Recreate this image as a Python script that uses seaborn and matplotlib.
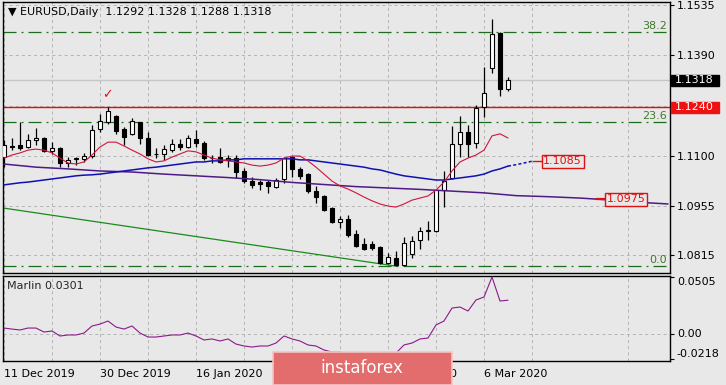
import matplotlib
matplotlib.use("Agg")
import matplotlib.pyplot as plt
import matplotlib.transforms as mtransforms
from matplotlib.patches import Rectangle
import numpy as np
import pandas as pd
import seaborn as sns

sns.set_theme(style="white")
plt.rcParams["font.family"] = ["DejaVu Sans"]
plt.rcParams["lines.scale_dashes"] = False

BG = "#e8e8e8"
W, H = 726, 385

# --- data (EURUSD daily, 11 Dec 2019 .. 11 Mar 2020) ---
opens = [1.1097, 1.1129, 1.1132, 1.1126, 1.1146, 1.1152, 1.1115, 1.1123, 1.1080, 1.1091,
         1.1092, 1.1100, 1.1178, 1.1198, 1.1215, 1.1178, 1.1164, 1.1198, 1.1152, 1.1106,
         1.1106, 1.1117, 1.1135, 1.1126, 1.1149, 1.1138, 1.1094, 1.1097, 1.1089, 1.1094,
         1.1057, 1.1028, 1.1025, 1.1025, 1.1011, 1.1034, 1.1097, 1.1063, 1.1048, 1.0999,
         1.0985, 1.0950, 1.0910, 1.0919, 1.0876, 1.0847, 1.0847, 1.0838, 1.0792, 1.0806,
         1.0786, 1.0818, 1.0858, 1.0884, 1.0884, 1.1002, 1.1037, 1.1135, 1.1169, 1.1138,
         1.1241, 1.1354, 1.1454, 1.1292]
highs = [1.1146, 1.1152, 1.1198, 1.1164, 1.1181, 1.1155, 1.1140, 1.1126, 1.1097, 1.1097,
         1.1109, 1.1189, 1.1221, 1.1241, 1.1218, 1.1184, 1.1210, 1.1198, 1.1169, 1.1123,
         1.1132, 1.1149, 1.1149, 1.1161, 1.1175, 1.1143, 1.1103, 1.1123, 1.1103, 1.1103,
         1.1065, 1.1040, 1.1031, 1.1031, 1.1037, 1.1097, 1.1100, 1.1068, 1.1051, 1.1014,
         1.0988, 1.0953, 1.0927, 1.0930, 1.0887, 1.0864, 1.0855, 1.0841, 1.0821, 1.0827,
         1.0867, 1.0870, 1.0896, 1.0913, 1.1005, 1.1057, 1.1187, 1.1215, 1.1189, 1.1247,
         1.1356, 1.1495, 1.1457, 1.1328]
lows = [1.1068, 1.1117, 1.1117, 1.1123, 1.1132, 1.1112, 1.1106, 1.1068, 1.1068, 1.1074,
        1.1083, 1.1094, 1.1169, 1.1192, 1.1164, 1.1132, 1.1161, 1.1135, 1.1100, 1.1094,
        1.1089, 1.1112, 1.1117, 1.1123, 1.1126, 1.1089, 1.1080, 1.1080, 1.1068, 1.1037,
        1.1022, 1.1008, 1.1002, 1.0994, 1.1008, 1.1022, 1.1040, 1.1034, 1.0994, 1.0965,
        1.0942, 1.0907, 1.0893, 1.0867, 1.0838, 1.0829, 1.0829, 1.0789, 1.0789, 1.0783,
        1.0783, 1.0806, 1.0832, 1.0858, 1.0881, 1.0953, 1.1034, 1.1097, 1.1097, 1.1123,
        1.1212, 1.1339, 1.1273, 1.1288]
closes = [1.1132, 1.1126, 1.1123, 1.1146, 1.1152, 1.1115, 1.1123, 1.1080, 1.1089, 1.1093,
          1.1100, 1.1175, 1.1201, 1.1230, 1.1172, 1.1155, 1.1201, 1.1152, 1.1103, 1.1105,
          1.1120, 1.1135, 1.1126, 1.1152, 1.1138, 1.1094, 1.1093, 1.1083, 1.1094, 1.1054,
          1.1028, 1.1017, 1.1020, 1.1014, 1.1031, 1.1094, 1.1063, 1.1043, 1.0999, 1.0982,
          1.0945, 1.0910, 1.0919, 1.0873, 1.0841, 1.0832, 1.0835, 1.0792, 1.0809, 1.0786,
          1.0850, 1.0855, 1.0884, 1.0886, 1.1002, 1.1028, 1.1135, 1.1169, 1.1135, 1.1238,
          1.1282, 1.1452, 1.1293, 1.1318]

red_ma = [1.1094, 1.1103, 1.1109, 1.1117, 1.1120, 1.1117, 1.1109, 1.1094, 1.1080, 1.1077,
          1.1083, 1.1103, 1.1126, 1.1140, 1.1140, 1.1129, 1.1117, 1.1106, 1.1092, 1.1083,
          1.1086, 1.1097, 1.1106, 1.1115, 1.1112, 1.1103, 1.1094, 1.1089, 1.1086, 1.1083,
          1.1080, 1.1074, 1.1071, 1.1074, 1.1080, 1.1094, 1.1100, 1.1100, 1.1086, 1.1068,
          1.1048, 1.1028, 1.1014, 1.1005, 1.0994, 1.0982, 1.0971, 1.0962, 1.0956, 1.0953,
          1.0962, 1.0973, 1.0979, 1.0985, 1.1002, 1.1025, 1.1057, 1.1083, 1.1094, 1.1103,
          1.1117, 1.1158, 1.1164, 1.1152]
blue_ma = [1.1017, 1.1020, 1.1023, 1.1025, 1.1028, 1.1031, 1.1034, 1.1037, 1.1040, 1.1043,
           1.1045, 1.1046, 1.1048, 1.1051, 1.1054, 1.1057, 1.1060, 1.1063, 1.1066, 1.1068,
           1.1071, 1.1074, 1.1077, 1.1080, 1.1083, 1.1083, 1.1086, 1.1086, 1.1089, 1.1089,
           1.1092, 1.1092, 1.1092, 1.1092, 1.1092, 1.1092, 1.1092, 1.1089, 1.1089, 1.1086,
           1.1083, 1.1080, 1.1077, 1.1074, 1.1071, 1.1068, 1.1063, 1.1060, 1.1054, 1.1048,
           1.1043, 1.1040, 1.1037, 1.1034, 1.1031, 1.1031, 1.1034, 1.1037, 1.1040, 1.1043,
           1.1048, 1.1057, 1.1063, 1.1071]
blue_proj_idx = [63, 64, 65, 66]
blue_proj = [1.1071, 1.1075, 1.1080, 1.1085]
purple_idx = [0, 4, 8, 12, 16, 20, 24, 28, 32, 36, 40, 44, 48, 52, 56, 60, 64, 68, 72, 76, 80, 83]
purple_ma = [1.1077, 1.1068, 1.1063, 1.1057, 1.1054, 1.1048, 1.1043, 1.1038, 1.1032, 1.1024,
             1.1018, 1.1012, 1.1008, 1.1004, 1.0999, 1.0994, 1.0986, 1.0983, 1.0979, 1.0973,
             1.0966, 1.0962]
trend_idx = [0, 49]
trend_val = [1.0950, 1.0783]
fib_names = ["0.0", "23.6", "38.2"]
fib_prices = [1.0783, 1.1198, 1.1457]
resistance = 1.1240
blue_label, purple_label = 1.1085, 1.0975

marlin = [0.0056, 0.0047, 0.0039, 0.0056, 0.0056, 0.0021, 0.0030, -0.0014, -0.0005, -0.0005,
          0.0012, 0.0074, 0.0091, 0.0118, 0.0065, 0.0047, 0.0074, 0.0012, -0.0023, -0.0023,
          -0.0014, -0.0005, -0.0005, 0.0012, -0.0014, -0.0049, -0.0040, -0.0058, -0.0040, -0.0085,
          -0.0102, -0.0111, -0.0102, -0.0102, -0.0076, -0.0014, -0.0040, -0.0058, -0.0093, -0.0102,
          -0.0137, -0.0155, -0.0155, -0.0181, -0.0208, -0.0217, -0.0217, -0.0218, -0.0199, -0.0164,
          -0.0093, -0.0076, -0.0040, -0.0032, 0.0083, 0.0118, 0.0232, 0.0241, 0.0206, 0.0303,
          0.0329, 0.0505, 0.0294, 0.0301]

date_idx = [0, 12, 24, 36, 48, 60]
date_labels = ["11 Dec 2019", "30 Dec 2019", "16 Jan 2020", "3 Feb 2020", "19 Feb 2020", "6 Mar 2020"]
price_ticks = [1.1535, 1.1390, 1.1245, 1.1100, 1.0955, 1.0815]
hidden_ticks = [1.1245]  # covered by the red 1.1240 marker
marlin_ticks = [0.0505, 0.0, -0.0218]
marlin_tick_labels = ["0.0505", "0.00", "-0.0218"]

df = pd.DataFrame({"open": opens, "high": highs, "low": lows, "close": closes})
df["idx"] = np.arange(len(df))

fig = plt.figure(figsize=(W / 100, H / 100), dpi=100, facecolor=BG)
ax = fig.add_axes([3 / W, 1 - 273 / H, 667 / W, 271 / H])
axm = fig.add_axes([3 / W, 1 - 361 / H, 667 / W, 85 / H])
GRID = dict(color="#b4b4b4", linestyle=(0, (2.2, 2.2)), linewidth=0.7)

for a in (ax, axm):
    a.set_facecolor(BG)
    a.set_xlim(-0.125, 83.25)
    a.set_xticks(date_idx)
    a.set_xticks(np.arange(6, 84, 12), minor=True)
    a.grid(True, axis="x", which="both", **GRID)
    a.set_axisbelow(True)
    for s in a.spines.values():
        s.set_color("black")
        s.set_linewidth(1)
    a.yaxis.tick_right()
    a.tick_params(axis="y", which="both", direction="out", length=3, width=0.8,
                  colors="black", labelsize=8, pad=2)
    a.tick_params(axis="x", which="minor", length=0)

# --- main panel ---
ax.set_ylim(1.07632, 1.15436)
ax.set_yticks(price_ticks)
ax.set_yticklabels(["" if p in hidden_ticks else f"{p:.4f}" for p in price_ticks])
ax.grid(True, axis="y", **GRID)
ax.tick_params(axis="x", which="both", length=0, labelbottom=False)

for lvl, name in zip(fib_prices, fib_names):
    ax.axhline(lvl, color="#1c6e1c", lw=0.9, ls=(0, (9.4, 3.6, 1.4, 3.6)), zorder=2)
    ax.text(82.9, lvl + 0.0004, name, ha="right", va="bottom", fontsize=8,
            color="#3f7a2a", zorder=6)
ax.axhline(resistance, color="#e01010", lw=1, zorder=2)
ax.axhline(closes[-1], color="#c6c6c6", lw=1, zorder=1)

sns.lineplot(x=trend_idx, y=trend_val, ax=ax, color="#1a8a1a", linewidth=0.9, zorder=2)

up = df["close"] >= df["open"]
ax.vlines(df["idx"], df["low"], df["high"], color="black", lw=0.9, zorder=3)
body = (df["close"] - df["open"]).abs().clip(lower=0.00006)
ax.bar(df["idx"], body, bottom=df[["open", "close"]].min(axis=1), width=0.6,
       color=np.where(up, "white", "black"), edgecolor="black", linewidth=0.8, zorder=4)

sns.lineplot(x=purple_idx, y=purple_ma, ax=ax, color="#4e1a86", linewidth=1.1, zorder=5)
sns.lineplot(x=df["idx"], y=blue_ma, ax=ax, color="#1010b4", linewidth=1.1, zorder=5)
ax.plot(blue_proj_idx, blue_proj, color="#1010b4", lw=1.1, ls=(0, (2.2, 1.6)), zorder=5)
sns.lineplot(x=df["idx"], y=red_ma, ax=ax, color="#d2143c", linewidth=0.8, zorder=5)

# price labels inside the chart
ax.plot([66.1, 67.3], [blue_label, blue_label], color="#e01010", lw=1, zorder=6)
ax.text(67.4, blue_label, f"{blue_label:.4f}", color="#e01010", fontsize=8, va="center",
        ha="left", zorder=7,
        bbox=dict(boxstyle="square,pad=0.15", fc=BG, ec="#e01010", lw=1))
ax.plot([74.0, 75.3], [purple_label, purple_label], color="#e01010", lw=1.6, zorder=6)
ax.text(75.35, purple_label, f"{purple_label:.4f}", color="#e01010", fontsize=8, va="center",
        ha="left", zorder=7,
        bbox=dict(boxstyle="square,pad=0.15", fc=BG, ec="#e01010", lw=1))
ax.text(12.9, highs[13] + 0.0036, "✓", color="#e01010", fontsize=9, fontweight="bold",
        ha="center", va="center", zorder=6)

# right-axis price boxes
blend = mtransforms.blended_transform_factory(ax.transAxes, ax.transData)
for price, fc in ((closes[-1], "black"), (resistance, "#ee1111")):
    ax.add_patch(Rectangle((1.0015, price - 0.00155), 48 / 667, 0.0031, transform=blend,
                           fc=fc, ec=fc, clip_on=False, zorder=8))
    ax.text(1.0075, price, f"{price:.4f}", transform=blend, color="white", fontsize=8,
            va="center", ha="left", clip_on=False, zorder=9)

fig.text(8 / W, 1 - 12 / H, "▼ EURUSD,Daily  1.1292 1.1328 1.1288 1.1318",
         fontsize=8, va="center", ha="left", color="black")

# --- Marlin panel ---
axm.set_ylim(-0.0234, 0.0514)
sns.lineplot(x=df["idx"], y=marlin, ax=axm, color="#8b1a8b", linewidth=0.8, zorder=3)
axm.axhline(0, **GRID, zorder=1)
axm.set_yticks(marlin_ticks)
axm.set_yticklabels(marlin_tick_labels)
for lab, va in zip(axm.get_yticklabels(), ["top", "center", "bottom"]):
    lab.set_va(va)
axm.set_xticklabels(date_labels, fontsize=8, ha="left")
axm.tick_params(axis="x", which="major", direction="out", length=3, width=0.8,
                colors="black", pad=3)
axm.set_xlabel("")
axm.set_ylabel("")
ax.set_xlabel("")
ax.set_ylabel("")
axm.text(0.006, 0.88, f"Marlin {marlin[-1]:.4f}", transform=axm.transAxes, fontsize=8,
         va="center", ha="left")

# watermark (covers part of the date axis, as in the source image)
fig.add_artist(Rectangle((273 / W, 0), 179 / W, 33 / H, transform=fig.transFigure,
                         fc="#e36c6c", ec="#f4c4c4", lw=1.2, zorder=10))
fig.text(320 / W, 1 - 368 / H, "instaforex", color="white", fontsize=12,
         va="center", ha="left", zorder=11)

fig.savefig("out.png", dpi=100, facecolor=BG)
